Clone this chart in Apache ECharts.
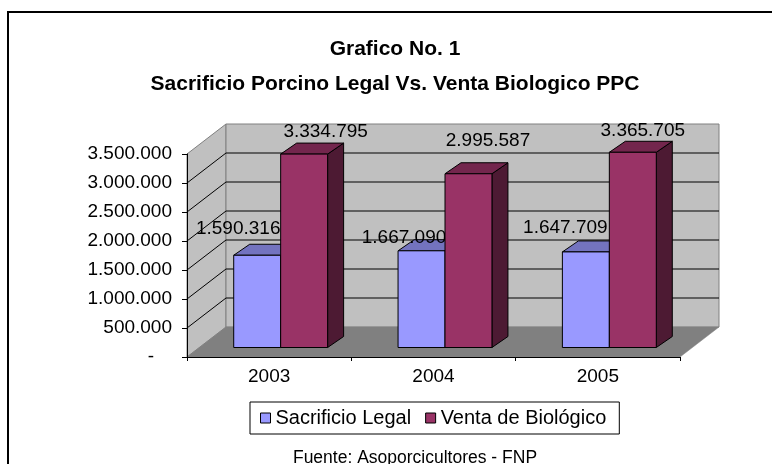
<!DOCTYPE html>
<html>
<head>
<meta charset="utf-8">
<script src="https://cdn.jsdelivr.net/npm/echarts@6/dist/echarts.min.js"></script>
<style>html,body{margin:0;padding:0;background:#fff}#c{width:772px;height:464px}</style>
</head>
<body>
<div id="c"></div>
<script>
// ---- data ----
const categories = ['2003', '2004', '2005'];
const seriesNames = ['Sacrificio Legal', 'Venta de Biológico'];
const sacrificioLegal = [1590316, 1667090, 1647709];
const ventaBiologico = [3334795, 2995587, 3365705];
const yTickValues = [0, 500000, 1000000, 1500000, 2000000, 2500000, 3000000, 3500000];
const titleLines = ['Grafico No. 1', 'Sacrificio Porcino Legal Vs. Venta Biologico PPC'];
const sourceText = 'Fuente: Asoporcicultores - FNP';

// ---- style ----
const FONT = 'Liberation Sans, Arial, sans-serif';
const WALL_DEPTH = [39, -30];
const BAR_FRONT = [11.5, -9.5];
const BAR_DEPTH = [16, -11];
const palette = [
  { front: '#9999FF', top: '#7373BF', side: '#4D4D80' },
  { front: '#993366', top: '#73264D', side: '#4D1A33' }
];
const labelOffsets = [
  [[-19, -26.5], [-17.5, -13], [-20.5, -24.5]],
  [[21.5, -22], [19.5, -32.5], [10, -22]]
];

function fmt(v) {
  return String(v).replace(/\B(?=(\d{3})+(?!\d))/g, '.');
}

function wallsRender(params, api) {
  const band = api.size([1, 0])[0];
  const p0 = api.coord([0, yTickValues[0]]);
  const pTop = api.coord([0, yTickValues[yTickValues.length - 1]]);
  const x0 = p0[0] - band / 2;
  const x1 = x0 + band * categories.length;
  const yB = p0[1], yT = pTop[1];
  const dx = WALL_DEPTH[0], dy = WALL_DEPTH[1];
  const children = [];
  children.push({ type: 'polygon', shape: { points: [[x0, yB], [x0, yT], [x0 + dx, yT + dy], [x0 + dx, yB + dy]] },
    style: { fill: '#C0C0C0', stroke: '#808080', lineWidth: 1 } });
  children.push({ type: 'polygon', shape: { points: [[x0 + dx, yT + dy], [x1 + dx, yT + dy], [x1 + dx, yB + dy], [x0 + dx, yB + dy]] },
    style: { fill: '#C0C0C0', stroke: '#808080', lineWidth: 1 } });
  for (let i = 1; i < yTickValues.length - 1; i++) {
    const y = api.coord([0, yTickValues[i]])[1];
    children.push({ type: 'polyline', shape: { points: [[x0, y], [x0 + dx, y + dy], [x1 + dx, y + dy]] },
      style: { stroke: '#000', lineWidth: 1, fill: null } });
  }
  children.push({ type: 'polygon', shape: { points: [[x0, yB], [x1, yB], [x1 + dx, yB + dy], [x0 + dx, yB + dy]] },
    style: { fill: '#808080', stroke: '#808080', lineWidth: 0.5 } });
  return { type: 'group', children: children };
}

function barRender(s) {
  return function (params, api) {
    const idx = api.value(0), val = api.value(1);
    const top = api.coord([idx, val]);
    const base = api.coord([idx, 0]);
    const band = api.size([1, 0])[0];
    const w = band / 3.5;
    const L = top[0] - w + s * w + BAR_FRONT[0];
    const R = L + w;
    const T = top[1] + BAR_FRONT[1];
    const B = base[1] + BAR_FRONT[1];
    const dx = BAR_DEPTH[0], dy = BAR_DEPTH[1];
    const c = palette[s];
    const st = (f) => ({ fill: f, stroke: '#000', lineWidth: 1, lineJoin: 'round' });
    const off = labelOffsets[s][params.dataIndex];
    return {
      type: 'group',
      children: [
        { type: 'polygon', shape: { points: [[R, T], [R, B], [R + dx, B + dy], [R + dx, T + dy]] }, style: st(c.side) },
        { type: 'polygon', shape: { points: [[L, T], [R, T], [R + dx, T + dy], [L + dx, T + dy]] }, style: st(c.top) },
        { type: 'polygon', shape: { points: [[L, T], [R, T], [R, B], [L, B]] }, style: st(c.front) },
        { type: 'text', z2: 10, style: { text: fmt(val), x: (L + R) / 2 + off[0], y: T + off[1],
          align: 'center', verticalAlign: 'middle', fill: '#000', font: '19px ' + FONT } }
      ]
    };
  };
}

const chart = echarts.init(document.getElementById('c'), null, { renderer: 'canvas' });
chart.setOption({
  backgroundColor: '#fff',
  animation: false,
  grid: { left: 187, right: 92, top: 154, bottom: 107 },
  xAxis: {
    type: 'category', data: categories, z: 10,
    axisLine: { show: true, lineStyle: { color: '#000', width: 1 } },
    axisTick: { show: true, length: 4, lineStyle: { color: '#000' } },
    axisLabel: { color: '#000', fontSize: 19, fontFamily: FONT, margin: 10.5 },
    splitLine: { show: false }
  },
  yAxis: {
    type: 'value', min: 0, max: 3500000, interval: 500000, z: 10,
    axisLine: { show: true, lineStyle: { color: '#000', width: 1 } },
    axisTick: { show: true, length: 5, lineStyle: { color: '#000' } },
    splitLine: { show: false },
    axisLabel: {
      color: '#000', fontSize: 19, fontFamily: FONT, margin: 15,
      formatter: function (v) { return v === 0 ? '{d|-}' : fmt(v); },
      rich: { d: { fontSize: 19, fontFamily: FONT, color: '#000', padding: [0, 18, 0, 0] } }
    }
  },
  legend: {
    show: true, left: 250, top: 402, orient: 'horizontal',
    padding: [6, 13, 6, 10], borderColor: '#000', borderWidth: 1,
    icon: 'rect', itemWidth: 10, itemHeight: 10, itemGap: 14, selectedMode: false,
    textStyle: { color: '#000', fontSize: 20, fontFamily: FONT },
    data: [
      { name: seriesNames[0], itemStyle: { color: palette[0].front, borderColor: '#000', borderWidth: 1 } },
      { name: seriesNames[1], itemStyle: { color: palette[1].front, borderColor: '#000', borderWidth: 1 } }
    ]
  },
  graphic: [
    { type: 'rect', shape: { x: 8, y: 12, width: 900, height: 600 }, style: { fill: null, stroke: '#000', lineWidth: 2 }, silent: true },
    { type: 'text', style: { text: titleLines[0], x: 395, y: 49.5, align: 'center', verticalAlign: 'middle', fill: '#000', font: 'bold 21px ' + FONT } },
    { type: 'text', style: { text: titleLines[1], x: 395, y: 84, align: 'center', verticalAlign: 'middle', fill: '#000', font: 'bold 21px ' + FONT } },
    { type: 'text', style: { text: sourceText, x: 415, y: 458, align: 'center', verticalAlign: 'middle', fill: '#000', font: '17.5px ' + FONT } }
  ],
  series: [
    { type: 'custom', name: '_walls', renderItem: wallsRender, data: [[0, 0]], silent: true, z: 1 },
    { type: 'custom', name: seriesNames[0], renderItem: barRender(0), itemStyle: { color: palette[0].front },
      data: sacrificioLegal.map((v, i) => [i, v]), encode: { x: 0, y: 1 }, z: 2 },
    { type: 'custom', name: seriesNames[1], renderItem: barRender(1), itemStyle: { color: palette[1].front },
      data: ventaBiologico.map((v, i) => [i, v]), encode: { x: 0, y: 1 }, z: 3 }
  ]
});
</script>
</body>
</html>
